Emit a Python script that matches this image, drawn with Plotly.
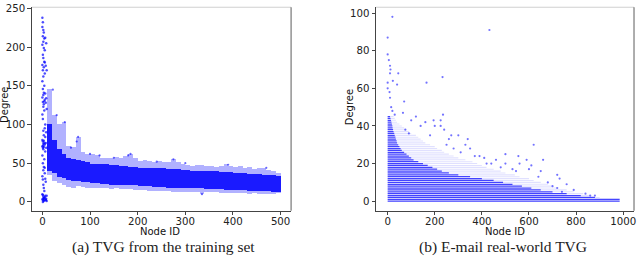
import plotly.graph_objects as go

# ---------------- Left panel data (TVG from the training set) ----------------
# Node-ID bins (centre of 10-node bins) and degree ranges
bin_centers = [15, 25, 35, 45, 55, 65, 75, 85, 95, 105, 115, 125, 135, 145, 155, 165, 175,
               185, 195, 205, 215, 225, 235, 245, 255, 265, 275, 285, 295, 305, 315, 325,
               335, 345, 355, 365, 375, 385, 395, 405, 415, 425, 435, 445, 455, 465, 475,
               485, 495]
core_low = [40, 37, 32, 30, 28, 27, 27, 26, 25, 24, 24, 23, 23, 22, 22, 22, 21,
            21, 21, 20, 20, 20, 19, 19, 19, 18, 18, 18, 18, 17, 17, 17,
            17, 16, 16, 16, 16, 15, 15, 15, 15, 15, 14, 14, 14, 14, 14,
            13, 13]
core_high = [100, 80, 68, 62, 57, 55, 54, 52, 51, 49, 49, 48, 48, 47, 47, 46, 46,
             45, 45, 44, 44, 44, 43, 43, 43, 42, 42, 42, 41, 41, 40, 40,
             40, 39, 39, 39, 38, 38, 38, 37, 37, 37, 36, 36, 36, 35, 35,
             34, 33]
outer_low = [34, 27, 24, 21, 19, 18, 20, 19, 18, 17, 17, 18, 17, 16, 17, 16, 16,
             16, 15, 15, 15, 14, 14, 14, 14, 14, 13, 13, 13, 13, 12, 12,
             10, 12, 12, 12, 11, 11, 11, 11, 11, 11, 10, 11, 10, 10, 10,
             10, 11]
outer_high = [145, 112, 100, 103, 72, 70, 84, 64, 62, 62, 60, 57, 56, 57, 58, 56, 59,
              62, 56, 53, 54, 52, 51, 53, 51, 51, 55, 51, 49, 47, 46, 47,
              47, 46, 46, 45, 46, 48, 46, 45, 46, 43, 45, 42, 43, 44, 41,
              39, 37]

# Scattered points of the first few nodes (node ID, degree)
early_nodes = [0, 1, 0, 2, 3, 1, 4, 2, 0, 3, 5, 1, 2, 4, 0, 3, 1, 5, 2, 0, 4, 1, 3, 2,
               0, 5, 1, 3, 2, 4, 0, 1, 6, 2, 3, 0, 1, 4, 2, 5, 0, 3, 1, 2, 6, 0, 4, 1,
               3, 2, 5, 0, 1, 7, 2, 3, 4, 0, 1, 6, 2, 5, 3, 8, 1, 4, 0, 2, 7, 3, 9, 1,
               6, 8, 5, 7, 9, 6, 8, 4, 7, 9, 5, 8, 6, 3, 7, 2, 8, 5, 6, 9, 4, 7]
early_degrees = [238, 232, 226, 222, 219, 214, 211, 207, 203, 199, 196, 190, 186, 181,
                 177, 174, 170, 166, 162, 156, 150, 146, 141, 138, 135, 132, 129, 126,
                 123, 118, 113, 107, 100, 92, 86, 80, 78, 76, 75, 74, 72, 71, 70, 68,
                 65, 60, 55, 50, 45, 41, 37, 33, 29, 26, 22, 18, 14, 10, 9, 8, 7, 6,
                 5, 4, 4, 3, 3, 2, 2, 1, 1, 0,
                 212, 205, 180, 176, 170, 140, 134, 130, 128, 120, 95, 90, 84, 79,
                 76, 73, 70, 44, 30, 8, 5, 3, 2, 0]

# Isolated higher points further right (node ID, degree)
left_out_nodes = [22, 30, 47, 60, 72, 75, 100, 120, 150, 180, 185, 240, 275, 300, 335, 390, 470]
left_out_degrees = [145, 112, 103, 70, 78, 84, 62, 60, 57, 60, 62, 52, 55, 50, 10, 48, 44]

# ---------------- Right panel data (E-mail real-world TVG) ----------------
degree_levels = list(range(0, 46))
dense_extent = [985, 985, 880, 820, 760, 700, 650, 610, 570, 530, 490, 450, 400, 350, 300,
                260, 230, 210, 190, 170, 150, 130, 110, 100, 90, 80, 70, 60, 55, 50, 45,
                40, 38, 35, 33, 30, 28, 25, 23, 21, 20, 18, 16, 14, 12, 10]
sparse_extent = [985, 985, 900, 860, 830, 790, 760, 720, 700, 680, 650, 620, 600, 560, 540,
                 500, 480, 450, 420, 400, 380, 360, 330, 300, 280, 260, 240, 230, 210, 200,
                 180, 160, 150, 140, 130, 120, 100, 90, 80, 70, 60, 50, 40, 35, 30, 25]

right_out_nodes = [20, 432, 0, 0, 5, 10, 12, 10, 45, 233, 0, 22, 40, 165, 0, 8, 10, 70, 15,
                   20, 65, 30, 235, 120, 100, 195, 225, 160, 140, 200, 225, 240, 75, 90,
                   270, 300, 340, 180, 260, 620, 500, 555, 390, 370, 410, 440, 500, 560,
                   610, 660, 590, 720, 730, 760, 790, 840, 860, 880, 650, 600, 640, 680,
                   700, 720, 740, 480, 530, 545, 460, 420, 350, 310, 330, 250, 280]
right_out_degrees = [98, 91, 87, 78, 75, 72, 70, 68, 68, 66, 63, 64, 62, 63, 60, 58, 55, 53,
                     50, 48, 47, 46, 46, 45, 43, 43, 43, 42, 40, 40, 40, 38, 38, 36, 35,
                     35, 33, 35, 33, 30, 25, 24, 24, 24, 23, 20, 20, 20, 19, 22, 22, 14,
                     12, 9, 6, 4, 3, 3, 16, 17, 13, 10, 8, 7, 5, 18, 17, 16, 22, 20, 28,
                     26, 30, 30, 28]

# ---------------- Figure ----------------
W, H = 640, 261
BLUE = "#0000ff"
fig = go.Figure()

# Left panel
fig.add_trace(go.Bar(x=bin_centers, y=[h - l for h, l in zip(outer_high, outer_low)],
                     base=outer_low, width=10, marker=dict(color=BLUE, line=dict(width=0)),
                     opacity=0.3, xaxis="x", yaxis="y", showlegend=False))
fig.add_trace(go.Bar(x=bin_centers, y=[h - l for h, l in zip(core_high, core_low)],
                     base=core_low, width=10, marker=dict(color=BLUE, line=dict(width=0)),
                     opacity=0.85, xaxis="x", yaxis="y", showlegend=False))
fig.add_trace(go.Scatter(x=early_nodes, y=early_degrees, mode="markers",
                         marker=dict(color=BLUE, size=2.5, opacity=0.7),
                         xaxis="x", yaxis="y", showlegend=False))
fig.add_trace(go.Scatter(x=left_out_nodes, y=left_out_degrees, mode="markers",
                         marker=dict(color=BLUE, size=2.2, opacity=0.6),
                         xaxis="x", yaxis="y", showlegend=False))

# Right panel
sx, sy, dx, dy = [], [], [], []
for d, ld, ls in zip(degree_levels, dense_extent, sparse_extent):
    sx += [0, ls, None]
    sy += [d, d, None]
    dx += [0, ld, None]
    dy += [d, d, None]
fig.add_trace(go.Scatter(x=sx, y=sy, mode="lines", line=dict(color="rgba(0,0,255,0.12)", width=1.1),
                         xaxis="x2", yaxis="y2", showlegend=False))
fig.add_trace(go.Scatter(x=dx, y=dy, mode="lines", line=dict(color="rgba(0,0,255,0.7)", width=1.25),
                         xaxis="x2", yaxis="y2", showlegend=False))
fig.add_trace(go.Scatter(x=right_out_nodes, y=right_out_degrees, mode="markers",
                         marker=dict(color=BLUE, size=2.2, opacity=0.55),
                         xaxis="x2", yaxis="y2", showlegend=False))

L_x0, L_x1 = 32, 292
R_x0, R_x1 = 377.3, 636
Y_top, Y_bot = 3.3, 210

tickfont = dict(family="DejaVu Sans", size=10.2, color="#222")
axis_common = dict(showgrid=False, zeroline=False, showline=True, linecolor="#444", linewidth=1.2,
                   ticks="outside", ticklen=3.5, tickwidth=1, tickcolor="#444", tickfont=tickfont,
                   ticklabeloverflow="allow")

ydom = [(H - Y_bot) / H, (H - Y_top) / H]
fig.update_layout(
    width=W, height=H, margin=dict(l=0, r=0, t=0, b=0),
    paper_bgcolor="white", plot_bgcolor="white", barmode="overlay", bargap=0,
    xaxis=dict(domain=[L_x0 / W, L_x1 / W], range=[-22, 522], tickvals=[0, 100, 200, 300, 400, 500],
               anchor="y", ticklabelstandoff=-3, **axis_common),
    yaxis=dict(domain=ydom, range=[-11.5, 251.5], tickvals=[0, 50, 100, 150, 200, 250],
               anchor="x", **axis_common),
    xaxis2=dict(domain=[R_x0 / W, R_x1 / W], range=[-49, 1046],
                tickvals=[0, 200, 400, 600, 800, 1000], anchor="y2", ticklabelstandoff=-3,
                **axis_common),
    yaxis2=dict(domain=ydom, range=[-5.1, 103.1], tickvals=[0, 20, 40, 60, 80, 100],
                anchor="x2", **axis_common),
)

# top and right spines (lighter)
for x0, x1 in [(L_x0, L_x1), (R_x0, R_x1)]:
    fig.add_shape(type="line", xref="paper", yref="paper", x0=x0 / W, x1=x1 / W,
                  y0=ydom[1], y1=ydom[1], line=dict(color="#d0d0d0", width=1))
    fig.add_shape(type="line", xref="paper", yref="paper", x0=x1 / W, x1=x1 / W,
                  y0=ydom[0], y1=ydom[1], line=dict(color="#777", width=1.2))

labfont = dict(family="DejaVu Sans", size=10, color="#111")
capfont = dict(family="Liberation Serif", size=15.5, color="#222")
annos = [
    dict(x=160 / W, y=(H - 231) / H, text="Node ID", font=labfont),
    dict(x=507 / W, y=(H - 231) / H, text="Node ID", font=labfont),
    dict(x=4.5 / W, y=(H - 102) / H, text="Degree", font=labfont, textangle=-90),
    dict(x=350 / W, y=(H - 105) / H, text="Degree", font=labfont, textangle=-90),
    dict(x=164 / W, y=(H - 247) / H, text="(a) TVG from the training set", font=capfont),
    dict(x=505 / W, y=(H - 247) / H, text="(b) E-mail real-world TVG", font=capfont),
]
for a in annos:
    fig.add_annotation(xref="paper", yref="paper", showarrow=False, xanchor="center",
                       yanchor="middle", **a)

fig.write_html("out.html", config={"displayModeBar": False},
               post_script="document.body.style.margin='0';document.body.style.overflow='hidden';")
